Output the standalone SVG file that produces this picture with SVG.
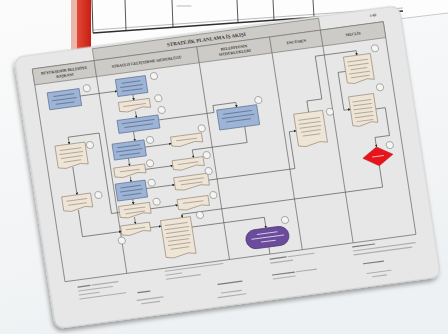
<svg xmlns="http://www.w3.org/2000/svg" width="448" height="334" viewBox="0 0 448 334">
<style>
.lane{fill:none;stroke:#6e6a66;stroke-width:0.7}
.hdr{fill:#cdcbc7;stroke:#77736e;stroke-width:0.6}
.ht{font-family:"Liberation Serif",serif;font-weight:bold;font-size:3.8px;fill:#3a3835;text-anchor:middle}
.blue{fill:#9db4d6;stroke:#5b6f93;stroke-width:0.7}
.doc{fill:#efe5d6;stroke:#8a7a6a;stroke-width:0.6}
.num{fill:#f4f4f2;stroke:#6a6866;stroke-width:0.5}
.con{fill:none;stroke:#4a4744;stroke-width:0.6}
.tb{fill:none;stroke:#6b5d50;stroke-width:1;stroke-linecap:round;opacity:0.45}
.tbb{fill:none;stroke:#34465f;stroke-width:1;stroke-linecap:round;opacity:0.5}
.tw{fill:none;stroke:#ffffff;stroke-width:1;stroke-linecap:round;opacity:0.7}
.ft{fill:none;stroke:#6a6a6a;stroke-width:1.1;stroke-linecap:round;opacity:0.45}
.fb{fill:none;stroke:#333;stroke-width:1.2;stroke-linecap:round;opacity:0.6}
</style>
<defs>
<marker id="ah" viewBox="0 0 4 4" refX="3.6" refY="2" markerWidth="2.6" markerHeight="2.6" markerUnits="userSpaceOnUse" orient="auto">
<path d="M0,0 L4,2 L0,4 z" fill="#222"/>
</marker>
<filter id="sh" x="-6%" y="-6%" width="112%" height="116%">
<feGaussianBlur in="SourceAlpha" stdDeviation="2"/>
<feOffset dx="-1.5" dy="2.5"/>
<feComponentTransfer><feFuncA type="linear" slope="0.35"/></feComponentTransfer>
<feMerge><feMergeNode/><feMergeNode in="SourceGraphic"/></feMerge>
</filter>
<linearGradient id="bg" x1="0" y1="0" x2="0.3" y2="1">
<stop offset="0" stop-color="#fbfbfb"/>
<stop offset="1" stop-color="#eef1f3"/>
</linearGradient>
<linearGradient id="red" x1="0" y1="0" x2="1" y2="0">
<stop offset="0" stop-color="#e24a36"/>
<stop offset="1" stop-color="#c81e12"/>
</linearGradient>
</defs>

<rect x="0" y="0" width="448" height="334" fill="url(#bg)"/>

<g id="back-sheet">
<polygon points="70,0 448,0 448,13 70,62" fill="#fdfdfd"/>
<line x1="398" y1="19" x2="448" y2="13" stroke="#c9c9c9" stroke-width="1"/>
<rect x="71" y="0" width="6" height="56" fill="#e9b7ab"/>
<rect x="77" y="0" width="14" height="56" fill="url(#red)"/>
<g stroke="#2f2f2f" fill="none">
<line x1="92" y1="0" x2="93" y2="33" stroke-width="0.9"/>
<line x1="93" y1="33" x2="403" y2="11" stroke-width="1.6"/>
<line x1="93" y1="30" x2="403" y2="8" stroke-width="0.5" stroke="#777"/>
<line x1="125" y1="0" x2="126" y2="30.7" stroke-width="0.8"/>
<line x1="172" y1="0" x2="173" y2="27.4" stroke-width="0.8"/>
<line x1="237" y1="0" x2="238" y2="22.8" stroke-width="0.8"/>
<line x1="273" y1="0" x2="274" y2="20.2" stroke-width="0.8"/>
<line x1="313" y1="0" x2="314" y2="17.4" stroke-width="0.8"/>
</g>
<path d="M177,6 h14" stroke="#777" stroke-width="1.2" stroke-linecap="round" opacity="0.5"/>
</g>

<g id="card" transform="matrix(0.997,-0.1344,0.1528,0.9939,32.3,69)">
<rect x="-16" y="-14" width="386" height="273" rx="9" fill="#e6e7e6" stroke="#d2d3d3" stroke-width="1" filter="url(#sh)"/>

<g id="frame">
<rect x="0" y="0" width="352" height="214" fill="#efefed" class="lane"/>
<rect x="62" y="-12" width="227" height="12" class="hdr" fill="#d8d6d2"/>
<text x="175.5" y="-4.3" class="ht" style="font-size:5px">STRATEJİK PLANLAMA İŞ AKIŞI</text>
<text x="343" y="-6.5" class="ht" style="font-size:3.6px">1-82</text>
<rect x="0" y="0" width="62" height="16" class="hdr"/>
<rect x="62" y="0" width="103" height="16" class="hdr"/>
<rect x="165" y="0" width="73" height="16" class="hdr"/>
<rect x="238" y="0" width="51" height="16" class="hdr"/>
<rect x="289" y="0" width="63" height="16" class="hdr"/>
<text x="31" y="7" class="ht">BÜYÜKŞEHİR BELEDİYE</text>
<text x="31" y="12" class="ht">BAŞKANI</text>
<text x="113.5" y="9.5" class="ht">STRATEJİ GELİŞTİRME MÜDÜRLÜĞÜ</text>
<text x="201.5" y="7" class="ht">BELEDİYENİN</text>
<text x="201.5" y="12" class="ht">MÜDÜRLÜKLERİ</text>
<text x="263.5" y="9.5" class="ht">ENCÜMEN</text>
<text x="320.5" y="9.5" class="ht">MECLİS</text>
<line x1="62" y1="16" x2="62" y2="214" class="lane"/>
<line x1="165" y1="16" x2="165" y2="214" class="lane"/>
<line x1="238" y1="16" x2="238" y2="214" class="lane"/>
<line x1="289" y1="16" x2="289" y2="214" class="lane"/>
</g>

<g id="connectors">
<path class="con" marker-end="url(#ah)" d="M43,33 H80"/>
<path class="con" marker-end="url(#ah)" d="M95,38.5 V44.5"/>
<path class="con" marker-end="url(#ah)" d="M95,55.5 V62"/>
<path class="con" marker-end="url(#ah)" d="M116.5,67 H172 V60 H195 V65"/>
<path class="con" marker-end="url(#ah)" d="M200,85 V101 H145 V109"/>
<path class="con" marker-end="url(#ah)" d="M90,75 V84.7"/>
<path class="con" marker-end="url(#ah)" d="M99,92 H125.5"/>
<path class="con" marker-end="url(#ah)" d="M81,100.7 V108.5"/>
<path class="con" marker-end="url(#ah)" d="M96,114 H123.5"/>
<path class="con" marker-end="url(#ah)" d="M80,119 V124.5"/>
<path class="con" marker-end="url(#ah)" d="M94,133 H122.5"/>
<path class="con" marker-end="url(#ah)" d="M79,141.5 V147"/>
<path class="con" marker-end="url(#ah)" d="M95,153.5 H122.5"/>
<path class="con" marker-end="url(#ah)" d="M78,159.5 V166.5"/>
<path class="con" marker-end="url(#ah)" d="M92,172 H103"/>
<path class="con" marker-end="url(#ah)" d="M156.5,133 H243 V96 H250"/>
<path class="con" marker-end="url(#ah)" d="M265,79.3 V68 H280 V25 H321 V29.6"/>
<path class="con" marker-end="url(#ah)" d="M307.5,44 H300 V82 H306.5"/>
<path class="con" marker-end="url(#ah)" d="M331.5,85 H341 V113 H326.4 V122.5"/>
<path class="con" marker-end="url(#ah)" d="M326.4,141.5 V163 H125 V166.5"/>
<path class="con" marker-end="url(#ah)" d="M25,102 V130"/>
<path class="con" marker-end="url(#ah)" d="M64,153 H56 V72 H25 V79"/>
<path class="con" marker-end="url(#ah)" d="M24,145 V172 H63"/>
<path class="con" marker-end="url(#ah)" d="M133,177 H205.6 V187.9"/>
<path class="con" d="M205.6,206.9 V214"/>
</g>

<g id="n1"><rect x="11" y="25.5" width="32" height="17" class="blue"/><path class="tbb" d="M17,30h20 M15,34h24 M18,38h18"/><circle cx="50.6" cy="26.2" r="3.5" class="num"/></g>
<g id="n2"><path class="doc" d="M10.6,79 h30 v22 q-7.5,-3 -15,0 t-15,0 z"/><path class="tb" d="M15,84h21 M14,88h23 M15,92h21 M17,96h17"/><circle cx="45.2" cy="82.6" r="3.5" class="num"/></g>
<g id="n3"><path class="doc" d="M9.5,130 h29 v14 q-7.25,-3 -14.5,0 t-14.5,0 z"/><path class="tb" d="M14,135h20 M15,139h18"/><circle cx="45.9" cy="133" r="3.5" class="num"/></g>
<g id="n4"><rect x="80" y="21.5" width="30" height="17" class="blue"/><path class="tbb" d="M86,26h18 M84,30h22 M85,34h20"/><circle cx="118.5" cy="23.1" r="3.5" class="num"/></g>
<g id="n5"><path class="doc" d="M79.5,44.5 h31 v9 q-7.75,-3 -15.5,0 t-15.5,0 z"/><path class="tb" d="M84,49h22"/><circle cx="119.4" cy="45.6" r="3.5" class="num"/></g>
<g id="n6"><rect x="75.5" y="62" width="41" height="13" class="blue"/><path class="tbb" d="M80,66h32 M82,70h28"/><circle cx="120.9" cy="57.6" r="3.5" class="num"/></g>
<g id="n7"><rect x="67" y="84.7" width="32" height="16" class="blue"/><path class="tbb" d="M72,89h22 M70,93h26 M73,97h20"/><circle cx="105" cy="85.6" r="3.5" class="num"/></g>
<g id="n8"><path class="doc" d="M125.5,85.5 h31 v9 q-7.75,-3 -15.5,0 t-15.5,0 z"/><path class="tb" d="M131,90h20"/><circle cx="157.5" cy="81" r="3.5" class="num"/></g>
<g id="n9"><path class="doc" d="M65,108.5 h31 v9 q-7.75,-3 -15.5,0 t-15.5,0 z"/><path class="tb" d="M71,113h19"/><circle cx="101.5" cy="108.6" r="3.5" class="num"/></g>
<g id="n10"><path class="doc" d="M123.5,109 h31 v9 q-7.75,-3 -15.5,0 t-15.5,0 z"/><path class="tb" d="M129,113.5h20"/><circle cx="158.4" cy="108" r="3.5" class="num"/></g>
<g id="n11"><rect x="64" y="124.5" width="30" height="17" class="blue"/><path class="tbb" d="M69,129h20 M68,133h22 M70,137h18"/><circle cx="100.1" cy="128" r="3.5" class="num"/></g>
<g id="n12"><path class="doc" d="M122.5,126 h34 v12 q-8.5,-3 -17,0 t-17,0 z"/><path class="tb" d="M127,130h25 M129,134h21"/><circle cx="157.9" cy="124" r="3.5" class="num"/></g>
<g id="n13"><path class="doc" d="M64,147 h31 v11 q-7.75,-3 -15.5,0 t-15.5,0 z"/><path class="tb" d="M69,151h21 M70,155h19"/><circle cx="102.1" cy="147.3" r="3.5" class="num"/></g>
<g id="n14"><path class="doc" d="M122.5,148 h31 v10 q-7.75,-3 -15.5,0 t-15.5,0 z"/><path class="tb" d="M128,152.5h20"/><circle cx="158.9" cy="148.3" r="3.5" class="num"/></g>
<g id="n15"><path class="doc" d="M63,166.5 h29 v9 q-7.25,-3 -14.5,0 t-14.5,0 z"/><path class="tb" d="M68,171h19"/><circle cx="62" cy="181" r="3.5" class="num"/></g>
<g id="n16"><path class="doc" d="M103,166.5 h30 v37 q-7.5,-3 -15,0 t-15,0 z"/><path class="tb" d="M107,172h22 M106,176h24 M107,180h22 M106,184h24 M108,188h20 M107,192h22 M109,196h18"/><circle cx="142.7" cy="166.2" r="3.5" class="num"/></g>
<g id="n17"><rect x="175" y="65" width="40" height="20" class="blue"/><path class="tbb" d="M181,70h28 M179,74h32 M183,78h24"/><circle cx="217.4" cy="60.6" r="3.5" class="num"/></g>
<g id="n18"><rect x="184.1" y="187.9" width="43" height="19" rx="9.5" fill="#6b4b9b" stroke="#4a3270" stroke-width="0.7"/><path class="tw" d="M196,193h20 M190,197h32 M199,201h14"/><circle cx="225.5" cy="182.4" r="3.5" class="num"/></g>
<g id="n19"><path class="doc" d="M250,79.3 h29 v32 q-7.25,-3 -14.5,0 t-14.5,0 z"/><path class="tb" d="M254,86h21 M254,90h21 M254,94h21 M255,98h19 M256,102h17"/><circle cx="286" cy="81.7" r="3.5" class="num"/></g>
<g id="n20"><path class="doc" d="M307.5,29.6 h27 v26 q-6.75,-3 -13.5,0 t-13.5,0 z"/><path class="tb" d="M311,35h20 M311,39h20 M313,43h16 M311,47h20 M312,51h18"/><circle cx="339.8" cy="25.1" r="3.5" class="num"/></g>
<g id="n21"><path class="doc" d="M306.5,69.5 h25 v29 q-6.25,-3 -12.5,0 t-12.5,0 z"/><path class="tb" d="M310,75h18 M310,79h18 M310,83h18 M310,87h18 M310,91h18 M311,95h16"/><circle cx="338.9" cy="64.2" r="3.5" class="num"/></g>
<g id="n22"><polygon points="311.4,132 326.4,122.5 341.4,132 326.4,141.5" fill="#e8141c" stroke="#b50d12" stroke-width="0.5"/><path class="tw" d="M321,132h11"/><circle cx="339.8" cy="122.5" r="3.5" class="num"/></g>

<g id="footer">
<path class="fb" d="M12,221h12 M70,234.5h12 M150,237h24 M205,219h16 M205,235h22 M288,218h22 M296,236h20"/>
<path class="ft" d="M26,221h26 M12,225h34 M12,229h20 M12,233h46 M68,242h26 M72,246h18 M100,217h58 M100,221h16 M100,225h34 M152,246h20 M148,250h28 M223,219h26 M205,223h22 M229,235h20 M205,239h22 M288,222h62 M288,226h58 M298,246h24 M303,250h14"/>
</g>
</g>
</svg>
